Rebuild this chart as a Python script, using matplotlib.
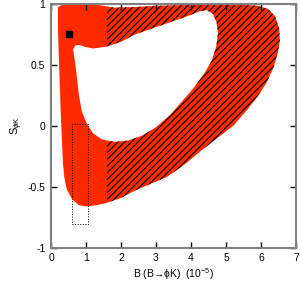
import matplotlib
matplotlib.use('Agg')
import matplotlib.pyplot as plt
from matplotlib.path import Path
from matplotlib.patches import PathPatch, Rectangle
import numpy as np

plt.rcParams['font.family'] = ['Liberation Sans', 'DejaVu Sans']
plt.rcParams['mathtext.fontset'] = 'custom'
plt.rcParams['mathtext.rm'] = 'Liberation Sans'
plt.rcParams['mathtext.it'] = 'Liberation Sans:italic'
plt.rcParams['hatch.linewidth'] = 0.8

# %% Data
outer_x = [0.20, 0.30, 0.60, 1.00, 1.40, 1.80, 2.40, 3.00, 3.60, 4.20, 4.80, 5.40,
           5.90, 6.20, 6.40, 6.52, 6.54, 6.48, 6.36, 6.15, 5.90, 5.60, 5.20, 4.75,
           4.30, 3.80, 3.30, 2.80, 2.40, 2.00, 1.60, 1.30, 1.00, 0.80, 0.60, 0.45,
           0.38, 0.34, 0.31, 0.28, 0.25, 0.22, 0.20]
outer_y = [0.975, 0.99, 1.00, 1.00, 0.99, 0.97, 0.975, 0.985, 0.99, 0.995, 1.00, 0.995,
           0.985, 0.96, 0.90, 0.80, 0.70, 0.60, 0.48, 0.35, 0.24, 0.13, 0.00, -0.10,
           -0.20, -0.32, -0.42, -0.48, -0.53, -0.59, -0.63, -0.65, -0.66, -0.65, -0.60, -0.52,
           -0.42, -0.30, -0.10, 0.10, 0.35, 0.60, 0.80]

inner_x = [0.63, 0.70, 0.80, 0.95, 1.20, 1.60, 2.00, 2.40, 3.00, 3.50, 3.90, 4.25,
           4.45, 4.62, 4.73, 4.77, 4.72, 4.60, 4.40, 4.10, 3.80, 3.40, 3.00, 2.60,
           2.20, 1.80, 1.45, 1.20, 1.02, 0.88, 0.80, 0.74, 0.69]
inner_y = [0.63, 0.66, 0.665, 0.65, 0.635, 0.65, 0.69, 0.75, 0.81, 0.86, 0.90, 0.94,
           0.95, 0.92, 0.85, 0.76, 0.65, 0.54, 0.44, 0.32, 0.22, 0.09, -0.01, -0.08,
           -0.12, -0.13, -0.11, -0.06, 0.02, 0.12, 0.25, 0.40, 0.52]

hatch_from = 1.6          # hatched part starts here
sm_point = (0.5, 0.75)    # standard model point
box_x = (0.6, 1.05)
box_y = (-0.8, 0.02)

xticks = [0, 1, 2, 3, 4, 5, 6, 7]
yticks = [-1, -0.5, 0, 0.5, 1]
ytick_labels = ['-1', '-0.5', '0', '0.5', '1']

# %% Figure
red = '#ff2a00'
fig = plt.figure(figsize=(3.0, 2.84), dpi=100)
ax = fig.add_axes([0.17, 0.127, 0.8167, 0.859])

# ring shaped region: outer boundary + reversed inner boundary
ov = np.column_stack([outer_x, outer_y])
iv = np.column_stack([inner_x, inner_y])[::-1]
verts = np.vstack([ov, ov[:1], iv, iv[:1]])
codes = ([Path.MOVETO] + [Path.LINETO] * (len(ov) - 1) + [Path.CLOSEPOLY] +
         [Path.MOVETO] + [Path.LINETO] * (len(iv) - 1) + [Path.CLOSEPOLY])
ring = Path(verts, codes)

ax.add_patch(PathPatch(ring, facecolor=red, edgecolor='none', zorder=1))
hp = PathPatch(ring, facecolor='none', edgecolor='black', hatch='/////', lw=0, zorder=2)
ax.add_patch(hp)
clip = Rectangle((hatch_from, -1), 10, 2, transform=ax.transData, visible=False)
ax.add_patch(clip)
hp.set_clip_path(clip)

ax.add_patch(Rectangle((box_x[0], box_y[0]), box_x[1] - box_x[0], box_y[1] - box_y[0],
                       facecolor='none', edgecolor='black', ls=':', lw=0.7, zorder=3))
ax.plot([sm_point[0]], [sm_point[1]], 's', color='black', ms=5, zorder=4)

ax.set_xlim(0, 7)
ax.set_ylim(-1, 1)
ax.set_xticks(xticks)
ax.set_yticks(yticks)
ax.set_yticklabels(ytick_labels)
ax.tick_params(direction='in', top=True, right=True, length=4, width=1,
               labelsize=7.5, pad=4)
for s in ax.spines.values():
    s.set_color('#808080')
    s.set_linewidth(1.5)

ax.set_xlabel('B (B\u2192\u03d5K)  (10$^{-5}$)', fontsize=7.5, labelpad=2)
ax.set_ylabel('S$_{\\phi\\mathrm{K}}$', fontsize=8, labelpad=2)

fig.savefig('out.png', dpi=100)
